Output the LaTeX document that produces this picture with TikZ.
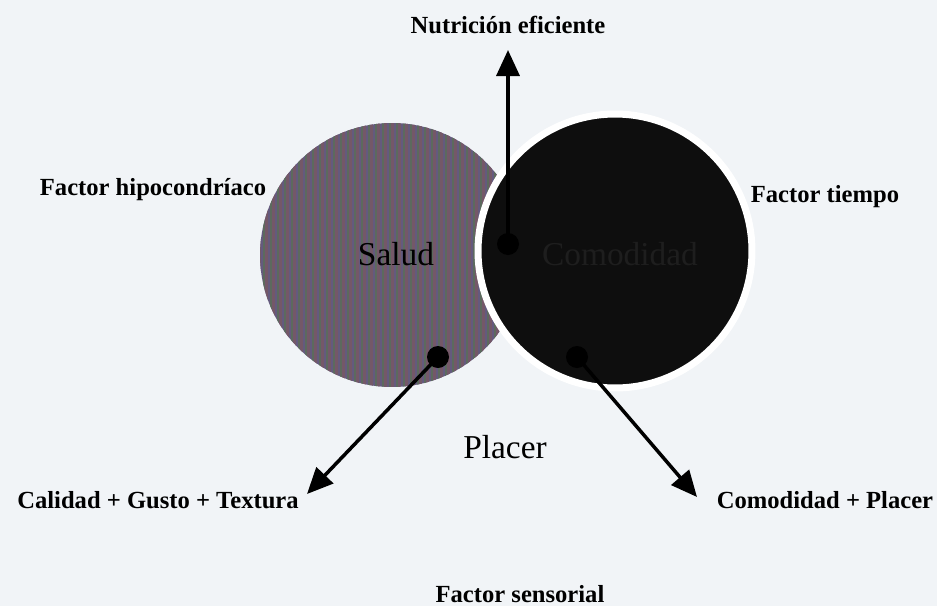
\documentclass[tikz,border=0pt]{standalone}
\usepackage{fontspec}
\setmainfont{Liberation Serif}
\usetikzlibrary{arrows.meta}
\definecolor{paper}{RGB}{241,244,247}
\definecolor{salud1}{RGB}{100,90,126}
\definecolor{salud2}{RGB}{92,106,94}
\definecolor{salud3}{RGB}{116,88,104}
\definecolor{ink}{RGB}{14,14,14}
\definecolor{inktext}{RGB}{30,30,30}
\begin{document}
\begin{tikzpicture}[x=0.02cm,y=-0.02cm,
  lbl/.style={font=\bfseries\fontsize{14}{16}\selectfont},
  big/.style={font=\fontsize{19}{22}\selectfont},
  flecha/.style={line width=2pt,-{Triangle[width=0.46cm,length=0.52cm]}}]
\fill[paper] (0,0) rectangle (937,606);
\useasboundingbox (0,0) rectangle (937,606);
\coordinate (c1) at (392,255);
\coordinate (c2) at (615,251);
\begin{scope}
\clip (c1) circle[radius=2.64cm];
\fill[salud1] (250,115) rectangle (530,395);
\foreach \x in {256,263,...,528}
  {\fill[salud2] (\x,115) rectangle ++(2.4,280);
   \fill[salud3] (\x+2.4,115) rectangle ++(2.4,280);}
\end{scope}
\fill[ink,draw=white,line width=0.14cm] (c2) circle[radius=2.74cm];
\node[big] (s1) at (396,254) {Salud};
\node[big,text=inktext] (s2) at (620,254) {Comodidad};
\node[big] (s3) at (505,447) {Placer};
\node[lbl] (f1) at (153,190) {Factor hipocondríaco};
\node[lbl] (f2) at (825,197) {Factor tiempo};
\node[lbl] (f3) at (520,594) {Factor sensorial};
\node[lbl] (r1) at (508,25) {Nutrición eficiente};
\node[lbl] (r2) at (158,500) {Calidad + Gusto + Textura};
\node[lbl] (r3) at (825,500) {Comodidad + Placer};
\coordinate (d1) at (508,244);
\coordinate (d2) at (438,357);
\coordinate (d3) at (577,357);
\coordinate (t1) at (508,50);
\coordinate (t2) at (307,494);
\coordinate (t3) at (697,497);
\draw[flecha] (d1) -- (t1);
\draw[flecha] (d2) -- (t2);
\draw[flecha] (d3) -- (t3);
\foreach \d in {d1,d2,d3}
  \fill (\d) circle[radius=0.22cm];
\end{tikzpicture}
\end{document}
